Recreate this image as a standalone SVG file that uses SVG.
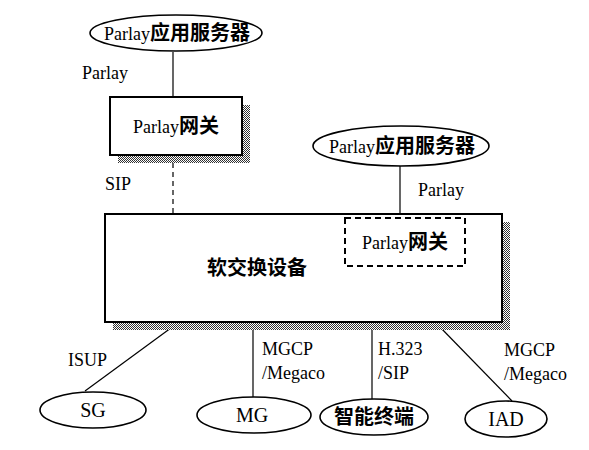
<svg xmlns="http://www.w3.org/2000/svg" width="589" height="450" viewBox="0 0 589 450">
<style>
text{font-family:"Liberation Serif","Noto Sans CJK SC",serif;font-size:18px;fill:#000;}
.c{text-anchor:middle;}
.n{fill:#fff;stroke:#000;stroke-width:2;}
.e{fill:#fff;stroke:#000;stroke-width:1.6;}
.l{stroke:#000;stroke-width:1.2;fill:none;}
.d{stroke:#000;stroke-width:1.2;fill:none;stroke-dasharray:5,4;}
.sh{fill:url(#dots);}
.b{font-weight:bold;font-size:20px;}
.nt{font-size:20px;}
</style>
<defs>
<pattern id="dots" width="2" height="2" patternUnits="userSpaceOnUse">
<rect width="2" height="2" fill="#fff"/>
<rect width="1" height="1" fill="#333"/>
<rect x="1" y="1" width="1" height="1" fill="#333"/>
</pattern>
</defs>
<rect width="589" height="450" fill="#fff"/>
<g id="connectors">
<line class="l" x1="173" y1="52" x2="173" y2="97"/>
<line class="d" x1="173" y1="163" x2="173" y2="213"/>
<line class="l" x1="400" y1="166" x2="400" y2="214"/>
<line class="l" x1="175" y1="325" x2="85" y2="391"/>
<line class="l" x1="253" y1="325" x2="253" y2="398"/>
<line class="l" x1="372" y1="325" x2="372" y2="399"/>
<line class="l" x1="438" y1="325" x2="512" y2="401"/>
<text x="82" y="79">Parlay</text>
<text x="105" y="190">SIP</text>
<text x="418" y="196">Parlay</text>
<text x="68" y="366">ISUP</text>
<text x="262" y="355">MGCP</text>
<text x="262" y="379">/Megaco</text>
<text x="378" y="355">H.323</text>
<text x="378" y="379">/SIP</text>
<text x="504" y="356">MGCP</text>
<text x="504" y="380">/Megaco</text>
</g>
<g id="app-server-1">
<ellipse class="e" cx="176" cy="33" rx="86" ry="18"/>
<text class="c" x="177" y="40">Parlay<tspan class="b">应用服务器</tspan></text>
</g>
<g id="parlay-gateway">
<rect class="sh" x="118" y="105" width="132" height="58"/>
<rect class="n" x="110" y="97" width="132" height="58"/>
<text class="c" x="176" y="133">Parlay<tspan class="b">网关</tspan></text>
</g>
<g id="app-server-2">
<ellipse class="e" cx="401" cy="146" rx="88" ry="20"/>
<text class="c" x="402" y="153">Parlay<tspan class="b">应用服务器</tspan></text>
</g>
<g id="softswitch">
<rect class="sh" x="113" y="222" width="397" height="108"/>
<rect class="n" x="105" y="214" width="397" height="108"/>
<text class="c b" x="257" y="275">软交换设备</text>
</g>
<g id="inner-gateway">
<rect x="345" y="218" width="120" height="48" fill="none" stroke="#000" stroke-width="2" stroke-dasharray="6,4"/>
<text class="c" x="405" y="249">Parlay<tspan class="b">网关</tspan></text>
</g>
<g id="sg">
<ellipse class="e" cx="93" cy="410" rx="53" ry="18"/>
<text class="c nt" x="93" y="417">SG</text>
</g>
<g id="mg">
<ellipse class="e" cx="254" cy="415" rx="57" ry="18"/>
<text class="c nt" x="252" y="422">MG</text>
</g>
<g id="terminal">
<ellipse class="e" cx="374" cy="417" rx="54" ry="18"/>
<text class="c b" x="374" y="424">智能终端</text>
</g>
<g id="iad">
<ellipse class="e" cx="506" cy="419" rx="41" ry="18"/>
<text class="c nt" x="506" y="426">IAD</text>
</g>
</svg>
